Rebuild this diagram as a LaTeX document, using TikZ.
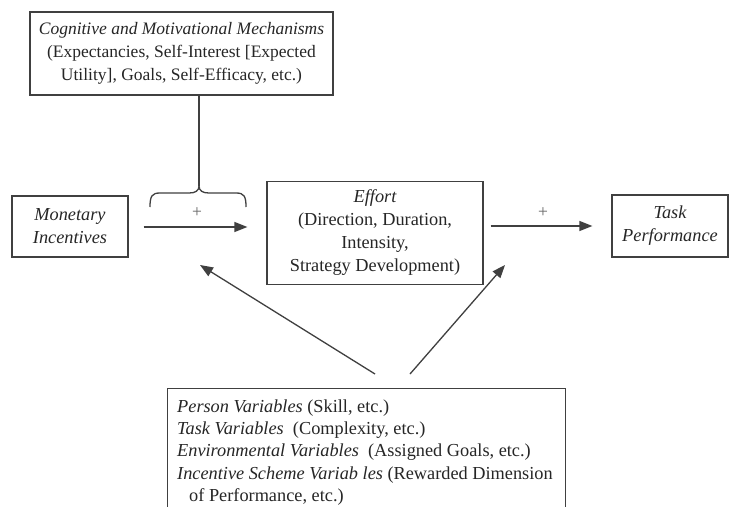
\documentclass[tikz,border=0pt]{standalone}
\usepackage{fontspec}
\setmainfont{Liberation Serif}
\usetikzlibrary{arrows.meta}
\tikzset{
  box/.style={draw=black!75, line width=1.3pt, inner sep=0pt, align=center,
    font=\fontsize{18.3}{23}\selectfont, text=black!85},
  txt/.style={inner sep=0pt, align=left, font=\fontsize{18.3}{22.2}\selectfont, text=black!85},
  conn/.style={draw=black!75, line width=1.3pt},
  arr/.style={conn, -{Triangle[length=13pt,width=10pt]}},
  plus/.style={inner sep=0pt, font=\fontsize{17.5}{23}\selectfont, text=black!60},
}
\begin{document}
\begin{tikzpicture}[x=1pt,y=-1pt]
\clip (0,0) rectangle (730,506);
\useasboundingbox (0,0) rectangle (730,506);
\fill[white] (0,0) rectangle (730,506);

\node[box, minimum width=303, minimum height=83, font=\fontsize{17.5}{23}\selectfont] (cog) at (181.5,53.5)
  {\itshape Cognitive and Motivational Mechanisms\\
   (Expectancies, Self-Interest [Expected\\
   Utility], Goals, Self-Efficacy, etc.)};

\node[box, minimum width=116, minimum height=61] (mon) at (70,226.5)
  {\itshape Monetary\\ \itshape Incentives};

\node[box, minimum width=216, minimum height=103] (eff) at (375,233)
  {\itshape Effort\\ (Direction, Duration,\\ Intensity,\\ Strategy Development)};

\node[box, minimum width=116, minimum height=62] (task) at (670,226)
  {\itshape Task\\ \itshape Performance};

\node[box, anchor=north west, minimum width=398, minimum height=150] (var) at (167,388) {};
\node[txt, anchor=north west] (vartext) at (177,399.5)
  {\textit{Person Variables} (Skill, etc.)\\
   \textit{Task Variables}\ \ (Complexity, etc.)\\
   \textit{Environmental Variables}\ \ (Assigned Goals, etc.)\\
   \textit{Incentive Scheme Variab les} (Rewarded Dimension\\
   \hspace*{12pt}of Performance, etc.)};

% brace over the first arrow
\coordinate (tip) at (199,186);
\draw[conn] (cog.south -| tip) -- (tip);
\draw[conn] (150,207) .. controls (150,196) and (152,193) .. (160,193)
  -- (189,193) .. controls (195,193) and (199,191) .. (tip)
  .. controls (199,191) and (203,193) .. (209,193)
  -- (236,193) .. controls (244,193) and (246,196) .. (246,207);

\node[plus] (p1) at (197,213) {+};
\node[plus] (p2) at (543,213) {+};

\draw[arr] ([xshift=15pt]mon.east |- 0,227) -- ([xshift=-19pt]eff.west |- 0,227);
\draw[arr] ([xshift=7pt]eff.east |- task.west) -- ([xshift=-19pt]task.west);

\coordinate (s1) at ([xshift=208pt,yshift=14pt]var.north west);
\coordinate (s2) at ([xshift=243pt,yshift=14pt]var.north west);
\coordinate (e1) at (200,265);
\coordinate (e2) at (505,265);
\draw[arr] (s1) -- (e1);
\draw[arr] (s2) -- (e2);
\end{tikzpicture}
\end{document}
